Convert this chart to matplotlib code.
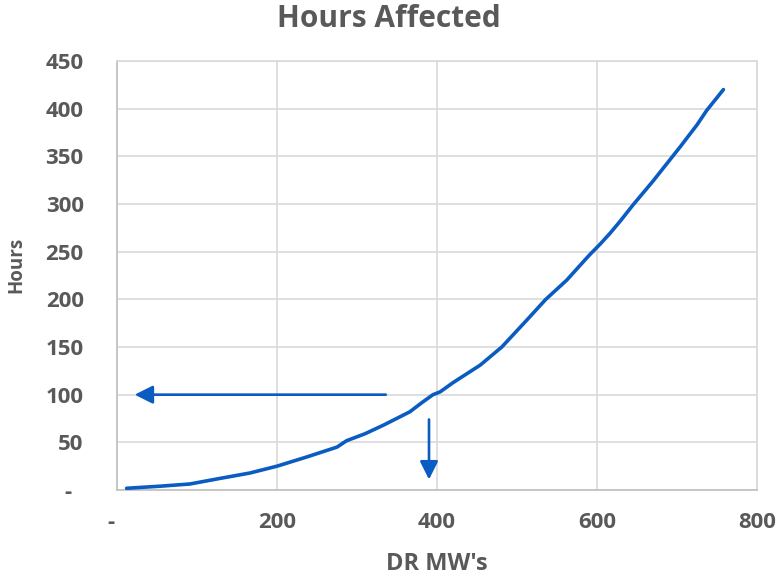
import matplotlib.pyplot as plt
from matplotlib.ticker import FuncFormatter

# DR megawatts vs. hours affected
mw = [12, 54, 91, 129, 166, 200, 237, 275, 287, 310, 333, 366, 381, 395,
      404, 420, 454, 481, 512, 536, 562, 590, 604, 616, 629, 645, 654, 670,
      687, 704, 725, 737, 758]
hours = [1.8, 4, 6.3, 12.2, 17.8, 25, 34.6, 45, 51.7, 59, 68, 82, 91.6, 100,
         103, 112.6, 131, 150, 178, 200, 220, 246, 258, 269, 282, 299, 308,
         324, 342, 360, 383, 398, 420]

# reading guide: 100 hours across to the axis, and down from ~390 MW
guide_h = [336, 22, 100]
guide_v = [390, 74, 11]

blue = '#0a5cc2'
grey_txt = '#595959'
grid_c = '#d9d9d9'

plt.rcParams['font.family'] = ['Open Sans', 'DejaVu Sans']
plt.rcParams['font.weight'] = 'bold'

fig = plt.figure(figsize=(7.78, 5.76), dpi=100)
ax = fig.add_axes([0.1504, 0.1493, 0.8226, 0.7448])

ax.plot(mw, hours, color=blue, lw=2.6, solid_capstyle='round', zorder=3)

arrow = dict(arrowstyle='-|>,head_length=1.1,head_width=0.55',
             color=blue, lw=1.9, shrinkA=0, shrinkB=0)
ax.annotate('', xy=(guide_h[1], guide_h[2]), xytext=(guide_h[0], guide_h[2]),
            arrowprops=arrow)
ax.annotate('', xy=(guide_v[0], guide_v[2]), xytext=(guide_v[0], guide_v[1]),
            arrowprops=arrow)

ax.set_xlim(0, 800)
ax.set_ylim(0, 450)
ax.set_xticks(range(0, 801, 200))
ax.set_yticks(range(0, 451, 50))
# accounting style: zero shows as a dash
dash = FuncFormatter(lambda v, p: '-  ' if v == 0 else f'{v:.0f}')
ax.xaxis.set_major_formatter(dash)
ax.yaxis.set_major_formatter(dash)

ax.grid(True, color=grid_c, lw=1.2)
ax.set_axisbelow(True)
for s in ax.spines.values():
    s.set_color(grid_c)
    s.set_linewidth(1.2)
ax.spines['left'].set_color('#bfbfbf')
ax.spines['bottom'].set_color('#bfbfbf')

ax.tick_params(length=0, labelsize=16, labelcolor=grey_txt)
ax.tick_params(axis='x', pad=16)
ax.tick_params(axis='y', pad=24)

fig.text(0.5, 0.953, 'Hours Affected', ha='center', va='baseline',
         fontsize=21.5, fontweight='bold', color=grey_txt)
ax.set_xlabel("DR MW's", fontsize=17, fontweight='bold', color=grey_txt,
              va='bottom')
ax.xaxis.set_label_coords(0.5, -0.2)
ax.set_ylabel('Hours', fontsize=13.5, fontweight='bold', color=grey_txt,
              va='center')
ax.yaxis.set_label_coords(-0.157, 0.524)

fig.savefig('out.png', dpi=100)
